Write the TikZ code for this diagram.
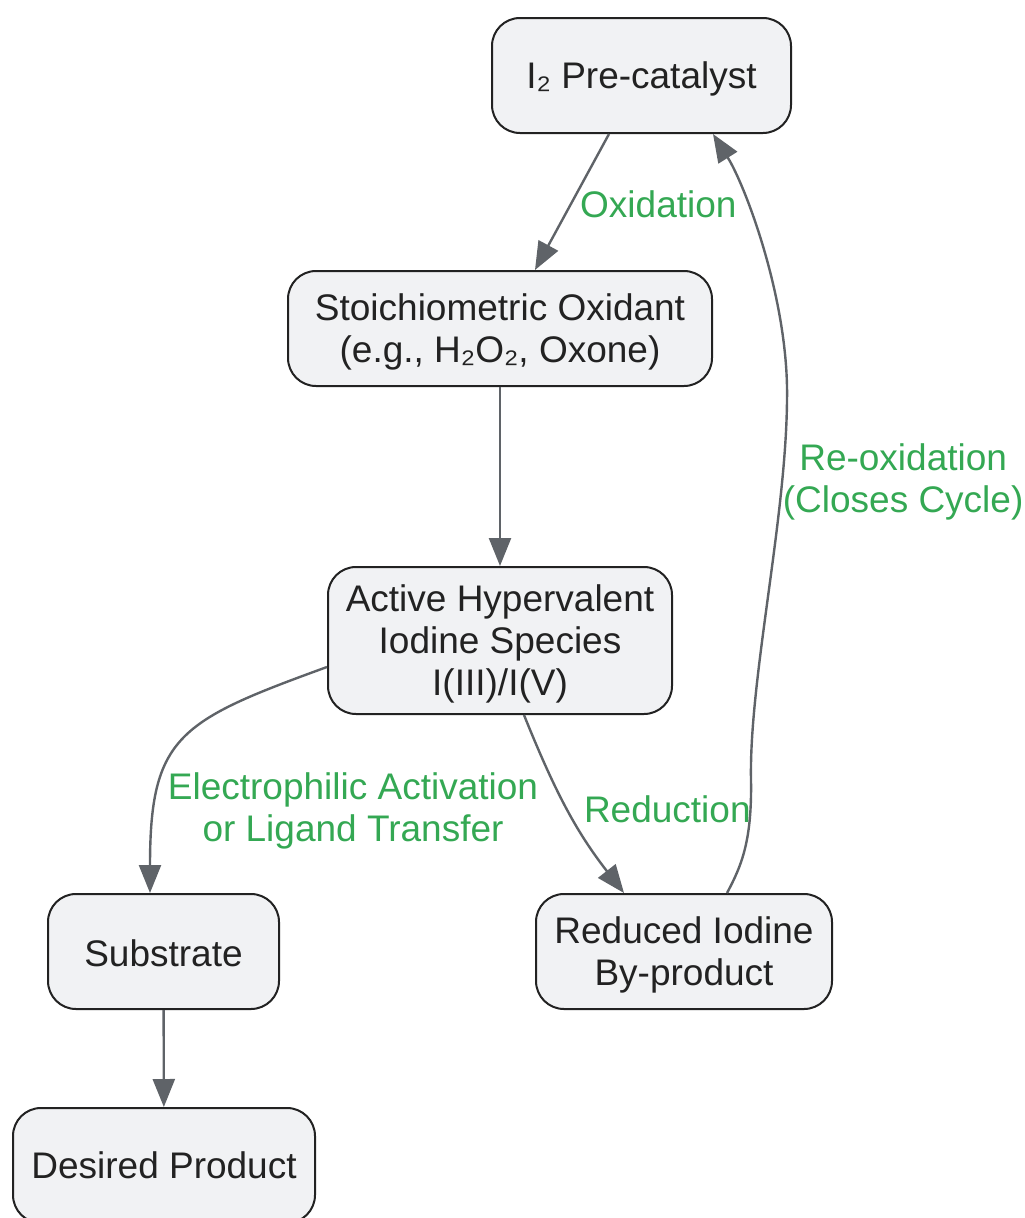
\documentclass[tikz,border=0pt]{standalone}
\usepackage{fontspec}
\setmainfont{Liberation Sans}
\usetikzlibrary{positioning, arrows.meta}
\definecolor{boxfill}{HTML}{F1F2F4}
\definecolor{boxline}{HTML}{222222}
\definecolor{arrowgray}{HTML}{5F6368}
\definecolor{labelgreen}{HTML}{34A853}
\tikzset{
    font=\fontsize{37}{42}\selectfont, % one size for boxes and labels
    node distance=253pt, % centre to centre distance, changed per row below
    box/.style={draw=boxline, fill=boxfill, text=boxline, line width=2pt, rounded corners=28pt,
        align=center, inner sep=0pt, minimum height=115pt, text depth=-4pt}, % negative depth: text sits a bit lower
    arr/.style={draw=arrowgray, line width=2.4pt, -{Triangle[length=28pt,width=22pt]}},
    lbl/.style={text=labelgreen, align=center, inner sep=2pt},
}

\begin{document}
\begin{tikzpicture}
            \useasboundingbox (0,0) rectangle (1025pt,-1218pt);
            \node[box, minimum width=299pt] (pre) at (641.5pt,-75.5pt) {I₂ Pre-catalyst};
            \node[box, minimum width=424pt, below of=pre, xshift=-141.5pt] (oxi) {Stoichiometric Oxidant\\(e.g., H₂O₂, Oxone)};
            \node[box, minimum width=344pt, minimum height=147pt, node distance=312pt, below of=oxi] (act) {Active Hypervalent\\Iodine Species\\I(III)/I(V)};
            \node[box, minimum width=231pt, text height=30pt, node distance=311pt, below of=act, xshift=-336.5pt] (sub) {Substrate};
            \node[box, minimum width=296pt, node distance=311pt, below of=act, xshift=184pt] (red) {Reduced Iodine\\By-product};
            \node[box, minimum width=302pt, node distance=214pt, below of=sub, xshift=0.5pt] (prod) {Desired Product};
            \draw ([xshift=-32.5pt]pre.south) edge[arr] node[lbl, right, xshift=5pt, yshift=-2pt] {Oxidation} ([xshift=35pt]oxi.north)
            (oxi) edge[arr] (act)
            ([yshift=-26.5pt]act.west) edge[arr, out=200, in=90, looseness=1.4] node[lbl, pos=0.79, right, xshift=10pt] {Electrophilic Activation\\or Ligand Transfer} ([xshift=-13.5pt]sub.north)
            ([xshift=24pt]act.south) edge[arr, out=-68, in=128] node[lbl, right, xshift=14pt, yshift=-1pt] {Reduction} ([xshift=-60pt]red.north)
            (sub) edge[arr] (prod);
            \draw[arr] ([xshift=43pt]red.north) .. controls (742pt,-865pt) and (752pt,-840pt) .. (751pt,-780pt)
            .. controls (749pt,-680pt) and (786pt,-520pt) .. node[lbl, pos=0.8, right, xshift=-3pt, yshift=-6pt] {Re-oxidation\\(Closes Cycle)} (787pt,-400pt)
            .. controls (789pt,-300pt) and (745pt,-185pt) .. ([xshift=71.5pt]pre.south);
        \end{tikzpicture}
\end{document}
